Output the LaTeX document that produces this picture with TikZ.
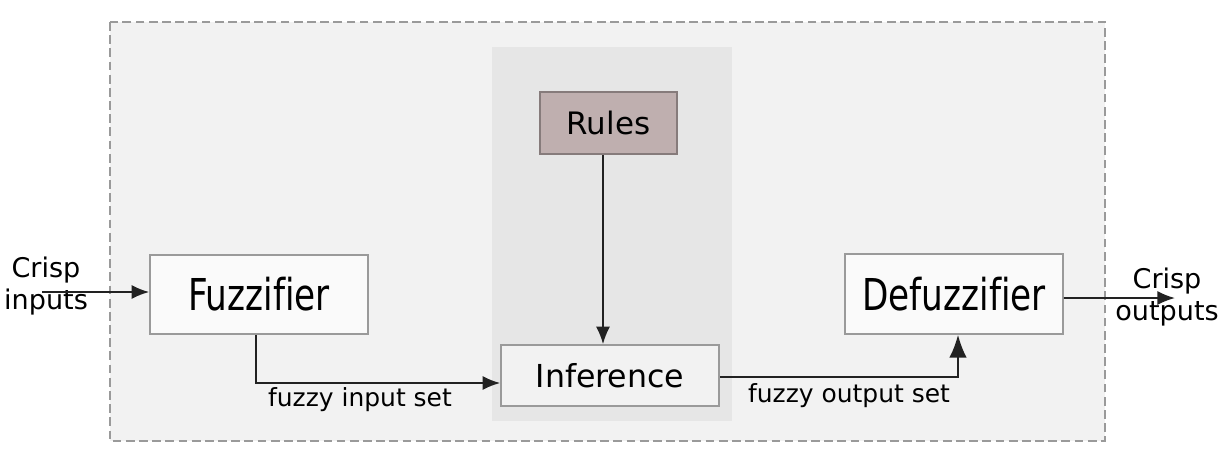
\documentclass[tikz,border=0pt]{standalone}
\usepackage{fontspec}
\setmainfont{DejaVu Sans}
\newfontfamily\narrowfont[FakeStretch=0.78, RawFeature={-liga}]{DejaVu Sans}
\definecolor{outerbg}{HTML}{F2F2F2}
\definecolor{panelbg}{HTML}{E6E6E6}
\definecolor{rulesbg}{RGB}{191,175,175}
\definecolor{boxline}{HTML}{9A9A9A}
\definecolor{wire}{HTML}{222222}
\tikzset{
  block/.style={draw=boxline, line width=0.9pt, inner sep=0pt, minimum width=4.36cm},
  wirearrow/.style={draw=wire, line width=1.1pt, -{Latex[length=10pt,width=8pt]}},
  lbl/.style={font=\fontsize{14.2}{17}\selectfont, inner sep=0pt},
  iolbl/.style={font=\fontsize{15.4}{18}\selectfont, align=center, inner sep=0pt}
}
\usetikzlibrary{arrows.meta}
\begin{document}
\begin{tikzpicture}[x=0.02cm, y=-0.02cm]
\useasboundingbox (0,0) rectangle (1223,458);
\fill[white] (0,0) rectangle (1223,458);

% System frame and inference panel
\draw[boxline, fill=outerbg, line width=0.9pt, dash pattern=on 5pt off 2.5pt] (110,22) rectangle (1105,441);
\fill[panelbg] (492,47) rectangle (732,421);

% Blocks
\node[block, fill=white!60!outerbg, minimum height=1.58cm, font=\narrowfont\fontsize{25}{28}\selectfont] (fuzz) at (259,294.5) {Fuzzif\kern0pt ier};
\node[block, fill=white!60!outerbg, minimum height=1.6cm, font=\narrowfont\fontsize{25}{28}\selectfont] (defuzz) at (954,294) {Defuzzif\kern0pt ier};
\node[block, fill=rulesbg, draw=rulesbg!70!black, minimum width=2.74cm, minimum height=1.24cm, font=\fontsize{17.6}{20}\selectfont] (rules) at (608.5,123) {Rules};
\node[block, fill=outerbg, minimum height=1.22cm, font=\fontsize{18}{21}\selectfont] (infer) at (610,375.5) {Inference};

% Crisp in and out
\node[iolbl] (cin) at (46,286) {Crisp\\inputs};
\node[iolbl] (cout) at (1167,297) {Crisp\\outputs};
\coordinate (inend) at (42,292);
\coordinate (outend) at (1175,298);

% Connectors
\draw[wirearrow] (inend) -- (inend -| fuzz.west);
\draw[wirearrow] ([xshift=-0.06cm]fuzz.south) |- ([yshift=-0.15cm]infer.west);
\draw[wirearrow] ([xshift=-0.11cm]rules.south) -- ([xshift=-0.11cm]rules.south |- infer.north);
\draw[draw=wire, line width=1.1pt, -{Latex[length=13pt,width=10pt]}] ([yshift=-0.03cm]infer.east) -| ([xshift=0.08cm]defuzz.south);
\draw[wirearrow] ([yshift=-0.08cm]defuzz.east) -- (outend);

% Set labels
\node[lbl] (fin) at (360,400) {fuzzy input set};
\node[lbl] (fout) at (849,396) {fuzzy output set};
\end{tikzpicture}
\end{document}
